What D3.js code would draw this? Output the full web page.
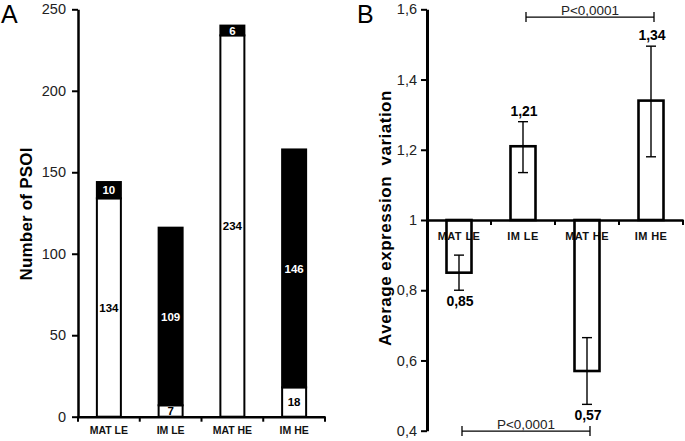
<!DOCTYPE html>
<html>
<head>
<meta charset="utf-8">
<script src="https://cdn.jsdelivr.net/npm/d3@7"></script>
<style>
html,body{margin:0;padding:0;background:#fff;}
svg{display:block;font-family:"Liberation Sans",Arial,sans-serif;}
</style>
</head>
<body>
<svg id="chart" width="685" height="441"></svg>
<script>
// ---- Panel A data ----
const categories = ["MAT LE", "IM LE", "MAT HE", "IM HE"];
const whiteCounts = [134, 7, 234, 18];
const blackCounts = [10, 109, 6, 146];
const ticksA = [0, 50, 100, 150, 200, 250];

// ---- Panel B data ----
const meanVariation = [0.85, 1.21, 0.57, 1.34];
const meanLabels = ["0,85", "1,21", "0,57", "1,34"];
const errorUp = [0.05, 0.07, 0.095, 0.155];
const errorDown = [0.05, 0.075, 0.095, 0.16];
const ticksB = [0.4, 0.6, 0.8, 1, 1.2, 1.4, 1.6];
const pFrom = ["IM LE", "MAT LE"];
const pTo = ["IM HE", "MAT HE"];
const pLabels = ["P<0,0001", "P<0,0001"];

const svg = d3.select("#chart");

// ================= Panel A =================
const gA = svg.append("g");
const yA = d3.scaleLinear().domain([0, 250]).range([416.7, 9.3]);
const xA = d3.scaleBand().domain(categories).range([78, 325]).padding(0);
const barWA = 24;

svg.append("text").attr("x", 1).attr("y", 23).attr("font-size", 25).text("A");

svg.append("text")
  .attr("transform", "translate(32,214) rotate(-90)")
  .attr("text-anchor", "middle").attr("font-size", 17).attr("font-weight", "bold")
  .attr("letter-spacing", "0.2px")
  .text("Number of PSOI");

const dataA = categories.map((c, i) => ({c, w: whiteCounts[i], b: blackCounts[i]}));
const barsA = gA.selectAll(".barA").data(dataA).enter().append("g");
barsA.append("rect")
  .attr("x", d => xA(d.c) + xA.bandwidth() / 2 - barWA / 2)
  .attr("y", d => yA(d.w))
  .attr("width", barWA)
  .attr("height", d => yA(0) - yA(d.w))
  .attr("fill", "#fff").attr("stroke", "#000").attr("stroke-width", 2);
barsA.append("rect")
  .attr("x", d => xA(d.c) + xA.bandwidth() / 2 - barWA / 2)
  .attr("y", d => yA(d.w + d.b))
  .attr("width", barWA)
  .attr("height", d => yA(d.w) - yA(d.w + d.b))
  .attr("fill", "#000").attr("stroke", "#000").attr("stroke-width", 2);
barsA.append("text")
  .attr("x", d => xA(d.c) + xA.bandwidth() / 2)
  .attr("y", d => yA(d.w / 2)).attr("dy", "0.36em")
  .attr("text-anchor", "middle").attr("font-size", 11.5).attr("font-weight", "bold")
  .attr("fill", "#000").text(d => d.w);
barsA.append("text")
  .attr("x", d => xA(d.c) + xA.bandwidth() / 2)
  .attr("y", d => yA(d.w + d.b / 2)).attr("dy", "0.36em")
  .attr("text-anchor", "middle").attr("font-size", 11.5).attr("font-weight", "bold")
  .attr("fill", "#fff").text(d => d.b);

const yAxisA = gA.append("g").attr("transform", "translate(78,0)")
  .call(d3.axisLeft(yA).tickValues(ticksA).tickSize(6).tickSizeOuter(0).tickPadding(6));
yAxisA.select(".domain").attr("stroke-width", 2.5);
yAxisA.selectAll(".tick line").attr("stroke-width", 2);
yAxisA.selectAll(".tick text").attr("font-size", 14.5).attr("fill", "#222")
  .attr("font-family", "Liberation Sans, Arial, sans-serif");

const xAxisA = gA.append("g").attr("transform", `translate(0,${yA(0)})`)
  .call(d3.axisBottom(xA).tickSize(0).tickPadding(10).tickSizeOuter(0));
xAxisA.select(".domain").attr("stroke-width", 2.5);
xAxisA.selectAll(".tick text").attr("font-size", 10.5).attr("font-weight", "bold")
  .attr("font-family", "Liberation Sans, Arial, sans-serif").attr("fill", "#111");
const boundsA = categories.map(c => xA(c)).concat([xA.range()[1]]);
gA.selectAll(".bt").data(boundsA).enter().append("line")
  .attr("x1", d => d).attr("x2", d => d)
  .attr("y1", yA(0)).attr("y2", yA(0) + 5)
  .attr("stroke", "#000").attr("stroke-width", 2);

// ================= Panel B =================
const gB = svg.append("g");
const yB = d3.scaleLinear().domain([0.4, 1.6]).range([430.7, 9.3]);
const xB = d3.scaleBand().domain(categories).range([427, 683]).padding(0);
const barWB = 25;
const fmtB = d => d === 1 ? "1" : d3.format(".1f")(d).replace(".", ",");

svg.append("text").attr("x", 357).attr("y", 23).attr("font-size", 25).text("B");

svg.append("text")
  .attr("transform", "translate(391,218) rotate(-90)")
  .attr("text-anchor", "middle").attr("font-size", 17).attr("font-weight", "bold")
  .attr("letter-spacing", "0.5px")
  .attr("xml:space", "preserve")
  .text("Average expression  variation");

const dataB = categories.map((c, i) => ({c, v: meanVariation[i], up: errorUp[i], dn: errorDown[i], lab: meanLabels[i]}));

const xAxisB = gB.append("g").attr("transform", `translate(0,${yB(1)})`)
  .call(d3.axisBottom(xB).tickSize(0).tickPadding(12).tickSizeOuter(0));
xAxisB.select(".domain").attr("stroke-width", 2.5);
xAxisB.selectAll(".tick text").attr("font-size", 11).attr("font-weight", "bold")
  .attr("letter-spacing", "0.4px")
  .attr("font-family", "Liberation Sans, Arial, sans-serif").attr("fill", "#111");
const boundsB = categories.map(c => xB(c)).concat([xB.range()[1]]);
gB.selectAll(".bt").data(boundsB.slice(1)).enter().append("line")
  .attr("x1", d => d).attr("x2", d => d)
  .attr("y1", yB(1)).attr("y2", yB(1) + 5)
  .attr("stroke", "#000").attr("stroke-width", 2);

const barsB = gB.selectAll(".barB").data(dataB).enter().append("g");
barsB.append("rect")
  .attr("x", d => xB(d.c) + xB.bandwidth() / 2 - barWB / 2)
  .attr("y", d => Math.min(yB(d.v), yB(1)))
  .attr("width", barWB)
  .attr("height", d => Math.abs(yB(d.v) - yB(1)))
  .attr("fill", "none").attr("stroke", "#000").attr("stroke-width", 2.6);
barsB.append("line")
  .attr("x1", d => xB(d.c) + xB.bandwidth() / 2).attr("x2", d => xB(d.c) + xB.bandwidth() / 2)
  .attr("y1", d => yB(d.v + d.up)).attr("y2", d => yB(d.v - d.dn))
  .attr("stroke", "#000").attr("stroke-width", 1.4);
barsB.append("line")
  .attr("x1", d => xB(d.c) + xB.bandwidth() / 2 - 5).attr("x2", d => xB(d.c) + xB.bandwidth() / 2 + 5)
  .attr("y1", d => yB(d.v + d.up)).attr("y2", d => yB(d.v + d.up))
  .attr("stroke", "#000").attr("stroke-width", 1.4);
barsB.append("line")
  .attr("x1", d => xB(d.c) + xB.bandwidth() / 2 - 5).attr("x2", d => xB(d.c) + xB.bandwidth() / 2 + 5)
  .attr("y1", d => yB(d.v - d.dn)).attr("y2", d => yB(d.v - d.dn))
  .attr("stroke", "#000").attr("stroke-width", 1.4);
barsB.append("text")
  .attr("x", d => xB(d.c) + xB.bandwidth() / 2 + 1)
  .attr("y", d => d.v >= 1 ? yB(d.v + d.up) - 6 : yB(d.v - d.dn) + 16)
  .attr("text-anchor", "middle").attr("font-size", 14).attr("font-weight", "bold")
  .text(d => d.lab);

const yAxisB = gB.append("g").attr("transform", "translate(427,0)")
  .call(d3.axisLeft(yB).tickValues(ticksB).tickFormat(fmtB).tickSize(6).tickSizeOuter(0).tickPadding(4));
yAxisB.select(".domain").attr("stroke-width", 3);
yAxisB.selectAll(".tick line").attr("stroke-width", 2);
yAxisB.selectAll(".tick text").attr("font-size", 14.5).attr("fill", "#222")
  .attr("font-family", "Liberation Sans, Arial, sans-serif");

const bracketY = [yB(1.578), yB(0.399)];
pFrom.forEach((f, i) => {
  const x1 = xB(f) + xB.bandwidth() / 2 + 3;
  const x2 = xB(pTo[i]) + xB.bandwidth() / 2 + 3;
  const y = bracketY[i];
  const g = gB.append("g");
  g.append("line").attr("x1", x1).attr("x2", x2).attr("y1", y).attr("y2", y)
    .attr("stroke", "#000").attr("stroke-width", 1.3);
  [x1, x2].forEach(x => g.append("line").attr("x1", x).attr("x2", x)
    .attr("y1", y - 5).attr("y2", y + 5).attr("stroke", "#000").attr("stroke-width", 1.3));
  g.append("text").attr("x", (x1 + x2) / 2).attr("y", y - 2.5)
    .attr("text-anchor", "middle").attr("font-size", 13.5).attr("fill", "#222")
    .text(pLabels[i]);
});
</script>
</body>
</html>
